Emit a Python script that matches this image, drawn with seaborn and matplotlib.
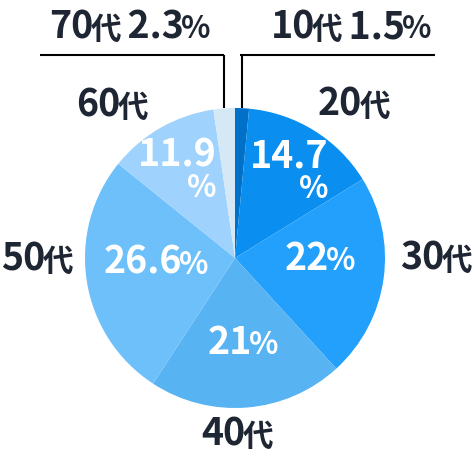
import matplotlib
matplotlib.use("Agg")
import matplotlib.pyplot as plt
import seaborn as sns
import numpy as np
from matplotlib.offsetbox import TextArea, HPacker, VPacker, AnnotationBbox

# data: age groups and share (%)
ages = ['10', '20', '30', '40', '50', '60', '70']
shares = [1.5, 14.7, 22, 21, 26.6, 11.9, 2.3]
share_labels = ['1.5', '14.7', '22', '21', '26.6', '11.9', '2.3']
colors = ['#0070c9', '#0a8ff1', '#22a0fc', '#58b3f3', '#6ec0fa', '#9fd2fc', '#d4e8f6']

sns.set_theme(style='white')
plt.rcParams['font.family'] = ['Noto Sans CJK JP', 'DejaVu Sans']

W, H = 474, 462
TXT = '#1f2633'
BIG, SMALL = 27, 22

fig = plt.figure(figsize=(W / 100, H / 100), dpi=100)
ax = fig.add_axes([0, 0, 1, 1])

cx, cy, R = 235, H - 258, 150
wedges, _ = ax.pie(shares, colors=colors, startangle=90, counterclock=False,
                   center=(cx, cy), radius=R, wedgeprops=dict(linewidth=0))
ax.set_xlim(0, W)
ax.set_ylim(0, H)
ax.set_aspect('equal')
ax.axis('off')


def piece(s, size, color):
    return TextArea(s, textprops=dict(fontsize=size, fontweight='bold', color=color))


def put(box, x, y):
    ab = AnnotationBbox(box, (x, H - y), xycoords='data', frameon=False,
                        box_alignment=(0.5, 0.5), pad=0)
    ax.add_artist(ab)


def label(parts, color, sep=-2):
    return HPacker(children=[piece(s, BIG if big else SMALL, color) for s, big in parts],
                   align='baseline', pad=0, sep=sep)


# outer age labels (pixel positions of label centres)
outer_pos = {'20': (354, 104), '30': (436, 258), '40': (237, 434),
             '50': (37, 259), '60': (112, 105)}
for a, (x, y) in outer_pos.items():
    put(label([(a, True), ('代', False)], TXT), x, y)

# small slices: label on top with leader line
top_pos = {'10': (351, 27, 240, 435), '70': (130, 27, 40, 224)}
theta = np.cumsum([0] + shares)
for i, a in enumerate(ages):
    if a not in top_pos:
        continue
    x, y, x0, x1 = top_pos[a]
    box = label([(a, True), ('代', False), (' ' + share_labels[i], True), ('%', False)], TXT)
    put(box, x, y)
    mid = np.deg2rad((theta[i] + theta[i + 1]) / 2 / 100 * 360)
    px = cx + R * np.sin(mid)
    py = cy + R * np.cos(mid)
    ax.plot([x0, x1], [H - 55, H - 55], color='black', lw=1.5, solid_capstyle='butt')
    ax.plot([px, px], [H - 55, py], color='black', lw=1.5, solid_capstyle='butt')

# inside value labels
inside_pos = {'20': (289, 171, True), '30': (320, 259, False), '40': (243, 342, False),
              '50': (156, 262, False), '60': (177, 170, True)}
for i, a in enumerate(ages):
    if a not in inside_pos:
        continue
    x, y, two = inside_pos[a]
    if two:
        box = VPacker(children=[piece(share_labels[i], BIG, 'white'), piece('%', SMALL, 'white')],
                      align='right', pad=0, sep=-2)
    else:
        box = label([(share_labels[i], True), ('%', False)], 'white')
    put(box, x, y)

fig.savefig('out.png', dpi=100)
